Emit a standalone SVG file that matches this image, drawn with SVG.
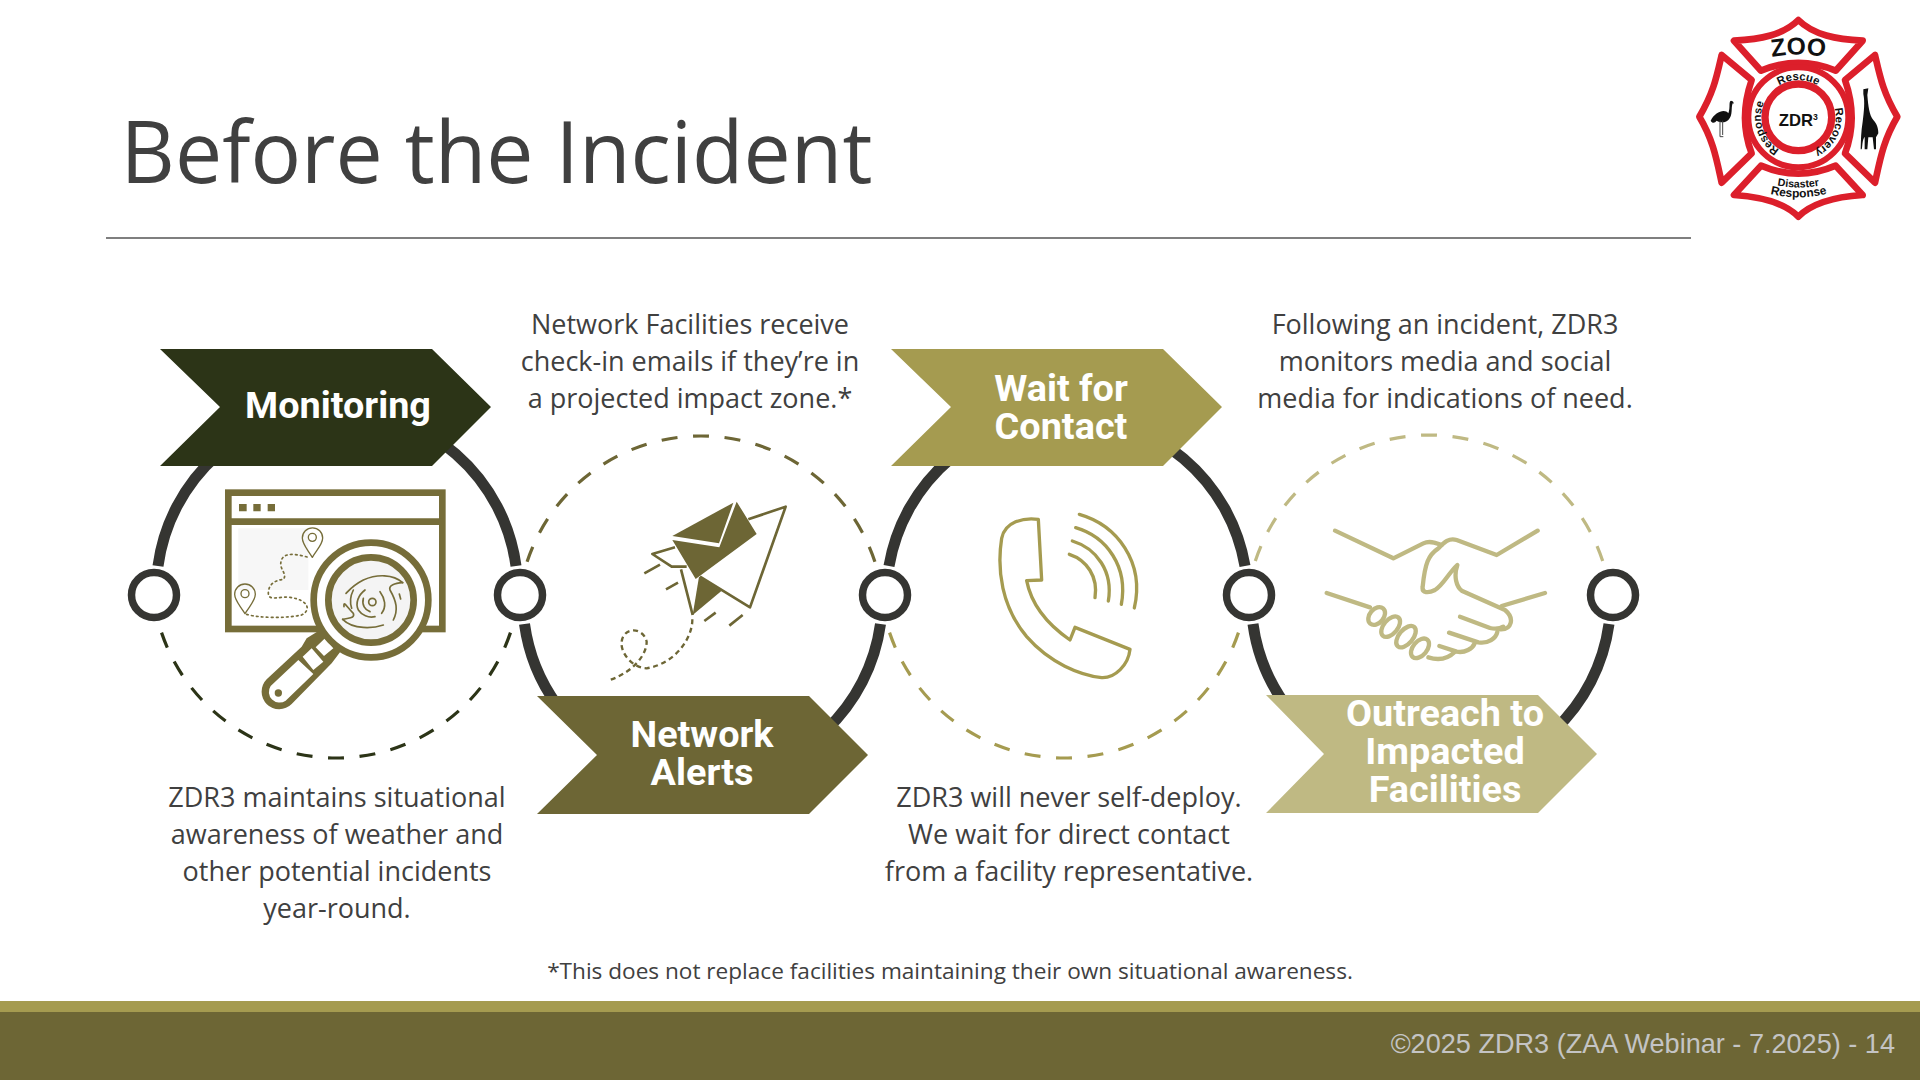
<svg xmlns="http://www.w3.org/2000/svg" width="1920" height="1080" viewBox="0 0 1920 1080">
<style>
.body{font-family:"Open Sans","Liberation Sans",sans-serif;font-size:27px;fill:#404040;text-anchor:middle}
.lab{font-family:Roboto,"Liberation Sans",sans-serif;font-weight:700;font-size:37.8px;fill:#fff;text-anchor:middle}
.solid{fill:none;stroke:#353532;stroke-width:11}
.dash{fill:none;stroke-width:3.2;stroke-dasharray:16 15.6;stroke-dashoffset:8}
.node{fill:#fff;stroke:#353532;stroke-width:7.5}
.i{fill:none;stroke-linecap:round;stroke-linejoin:round}
.lg{font-family:"Liberation Sans",Arial,sans-serif;font-weight:700;fill:#111}
</style>
<rect width="1920" height="1080" fill="#fff"/>
<text x="120.5" y="183" font-family="'Open Sans','Liberation Sans',sans-serif" font-size="86.5" fill="#404040" textLength="752" lengthAdjust="spacingAndGlyphs">Before the Incident</text>
<rect x="106" y="237" width="1585" height="2" fill="#7f7f7f"/>

<g id="connectors">
<path class="solid" d="M158,566A180.6,180.6 0 0 1 516,566"/>
<path class="solid" d="M524.5,624A179.5,179.5 0 0 0 557,705M826,730A179.5,179.5 0 0 0 880.5,624"/>
<path class="solid" d="M889,566A180.6,180.6 0 0 1 1245,566"/>
<path class="solid" d="M1253,624A179.5,179.5 0 0 0 1285.5,705M1554.5,730A179.5,179.5 0 0 0 1609,624"/>
<path class="dash" stroke="#2c3417" d="M336,758A184.5,184.5 0 0 1 161,631M336,758A184.5,184.5 0 0 0 511,631"/>
<path class="dash" stroke="#6d6635" d="M701,436A183,183 0 0 0 527,562M701,436A183,183 0 0 1 875,562"/>
<path class="dash" stroke="#a59b50" d="M1064,758A184.5,184.5 0 0 1 889,631M1064,758A184.5,184.5 0 0 0 1239,631"/>
<path class="dash" stroke="#bfb983" d="M1429,435A183,183 0 0 0 1255,562M1429,435A183,183 0 0 1 1603,562"/>
<circle class="node" cx="154" cy="595" r="22.5"/>
<circle class="node" cx="520" cy="595" r="22.5"/>
<circle class="node" cx="885" cy="595" r="22.5"/>
<circle class="node" cx="1249" cy="595" r="22.5"/>
<circle class="node" cx="1613" cy="595" r="22.5"/>
</g>

<g id="node-monitoring">
<polygon points="160,349 432,349 491,407 432,466 160,466 220,407" fill="#2c3417"/>
<text class="lab" x="338" y="418">Monitoring</text>
<g transform="translate(120 450) scale(.33333)">
<rect x="355" y="235" width="210" height="185" fill="#f7f7f7"/>
<rect x="325" y="128" width="642" height="409" fill="none" stroke="#766d39" stroke-width="20"/>
<path d="M325,215H967" stroke="#766d39" stroke-width="20"/>
<path d="M357,162h23v22h-23zM400,162h22v22h-22zM443,162h22v22h-22z" fill="#766d39"/>
<g class="i" stroke="#766d39" stroke-width="4">
<path d="M577,322C560,295 547,282 547,264A30,30 0 0 1 608,264C608,282 594,295 577,322Z"/><circle cx="577" cy="262" r="12"/>
<path d="M375,491C358,464 344,451 344,433A30,30 0 0 1 406,433C406,451 392,464 375,491Z"/><circle cx="375" cy="431" r="12"/>
<path stroke-width="5" stroke-dasharray="5 10" d="M380,493C420,505 500,505 545,495C575,480 565,450 510,442C480,438 445,455 445,430C445,400 470,390 490,388C505,370 470,355 487,325C500,305 540,315 565,322"/>
</g>
<path d="M560,565L600,540L665,600L635,640L515,762A52,52 0 0 1 440,688L545,590Z" fill="#766d39"/>
<path d="M587,592L615,565L640,595L612,618ZM548,620L575,595L610,635L580,660Z" fill="#fff"/>
<path d="M535,630L580,672L497,752A32,32 0 0 1 452,708Z" fill="#fff"/>
<circle cx="475" cy="729" r="11" fill="#766d39"/>
<circle cx="753" cy="450" r="172" fill="#fff" stroke="#766d39" stroke-width="20"/>
<circle cx="753" cy="450" r="128" fill="#f4f4f4" stroke="#766d39" stroke-width="20"/>
<g class="i" stroke="#766d39" stroke-width="5">
<circle cx="757" cy="456" r="11"/>
<path d="M848,398C820,372 770,372 730,390C700,405 683,425 678,430"/>
<path d="M848,398C825,400 805,405 810,420C830,455 835,480 820,510"/>
<path d="M668,508C690,503 705,505 700,490C680,470 670,450 672,470"/>
<path d="M668,508C700,540 760,535 790,525"/>
<path d="M735,420C715,435 705,460 715,480C725,495 745,505 765,500"/>
<path d="M780,425C795,445 800,470 785,490"/>
<path d="M730,445C725,465 735,480 750,485"/>
<path d="M700,420C690,440 690,460 695,475"/>
<path d="M838,432L842,447"/>
</g>
</g>
<text class="body" x="337" y="807">ZDR3 maintains situational</text>
<text class="body" x="337" y="844">awareness of weather and</text>
<text class="body" x="337" y="881">other potential incidents</text>
<text class="body" x="337" y="918">year-round.</text>
</g>

<g id="node-network-alerts">
<polygon points="537,696 809,696 868,755 809,814 537,814 597,755" fill="#6d6635"/>
<text class="lab" x="702" y="747">Network</text>
<text class="lab" x="702" y="785">Alerts</text>
<g transform="translate(520 430) scale(.33333)">
<path d="M685,268L797,230L690,532L540,440" fill="none" stroke="#6d6635" stroke-width="8" stroke-linejoin="round"/>
<path d="M465,352L397,372L455,410H500M483,418L518,555" fill="none" stroke="#6d6635" stroke-width="8" stroke-linejoin="round"/>
<polygon points="457,330 598,352 650,215 710,312 527,447" fill="#6d6635"/>
<polygon points="457,318 640,218 597,340" fill="#6d6635"/>
<polygon points="537,440 605,482 518,555" fill="#6d6635"/>
<path d="M373,430L420,404M438,478L474,458M553,573L587,548M628,587L668,555" stroke="#6d6635" stroke-width="8" fill="none"/>
<path d="M517,568C518,620 470,700 380,715C340,715 300,670 305,635C310,590 370,590 380,635C380,675 340,725 270,750" fill="none" stroke="#6d6635" stroke-width="7" stroke-dasharray="15 11"/>
</g>
<text class="body" x="690" y="334">Network Facilities receive</text>
<text class="body" x="690" y="371">check-in emails if they’re in</text>
<text class="body" x="690" y="408">a projected impact zone.*</text>
</g>

<g id="node-wait-for-contact">
<polygon points="891,349 1163,349 1222,407 1163,466 891,466 951,407" fill="#a59b50"/>
<text class="lab" x="1061" y="401">Wait for</text>
<text class="lab" x="1061" y="439">Contact</text>
<g transform="translate(880 430) scale(.33333)" class="i" stroke="#a59b50" stroke-width="10">
<path d="M475,268C430,262 375,275 365,325C350,420 365,530 440,620C510,700 600,735 665,743C705,745 745,705 750,658L585,592L570,630C505,585 455,530 440,452L485,450Z"/>
<path d="M568,373C620,390 655,440 645,503"/>
<path d="M577,333C650,355 700,425 685,513"/>
<path d="M587,293C680,320 745,410 724,523"/>
<path d="M598,253C710,285 795,395 763,534"/>
</g>
<text class="body" x="1069" y="807">ZDR3 will never self-deploy.</text>
<text class="body" x="1069" y="844">We wait for direct contact</text>
<text class="body" x="1069" y="881">from a facility representative.</text>
</g>

<g id="node-outreach">
<polygon points="1266,695 1538,695 1597,754 1538,813 1266,813 1324,754" fill="#bfb983"/>
<text class="lab" x="1445" y="726">Outreach to</text>
<text class="lab" x="1445" y="764">Impacted</text>
<text class="lab" x="1445" y="802">Facilities</text>
<g transform="translate(1240 430) scale(.33333)" class="i" stroke="#bfb983" stroke-width="13">
<path d="M285,302L460,385L550,340C570,330 590,340 605,345"/>
<path d="M893,302L770,375L650,330C625,322 610,340 595,355C565,375 555,400 548,470C545,490 565,490 585,480C610,465 625,430 652,405C640,440 650,470 665,482L795,540C825,565 815,600 780,598"/>
<path d="M785,528L915,489"/>
<path d="M260,489L390,532"/>
<path d="M660,560L750,594C775,600 790,590 790,590"/>
<path d="M627,608L715,637C745,642 768,625 772,606"/>
<path d="M598,648L650,665C675,670 698,655 704,640"/>
<path d="M565,682C590,690 620,690 645,665"/>
<ellipse cx="410" cy="558" rx="30" ry="21" transform="rotate(-50 410 558)"/>
<ellipse cx="452" cy="590" rx="36" ry="21" transform="rotate(-50 452 590)"/>
<ellipse cx="498" cy="620" rx="38" ry="21" transform="rotate(-50 498 620)"/>
<ellipse cx="540" cy="655" rx="34" ry="21" transform="rotate(-50 540 655)"/>
</g>
<text class="body" x="1445" y="334">Following an incident, ZDR3</text>
<text class="body" x="1445" y="371">monitors media and social</text>
<text class="body" x="1445" y="408">media for indications of need.</text>
</g>

<text x="950" y="979" font-family="'Open Sans','Liberation Sans',sans-serif" font-size="22.6" fill="#404040" text-anchor="middle">*This does not replace facilities maintaining their own situational awareness.</text>

<rect y="1001" width="1920" height="11" fill="#a59b50"/>
<rect y="1012" width="1920" height="68" fill="#6d6635"/>
<text x="1895" y="1053" font-family="'Liberation Sans',Arial,sans-serif" font-size="27.1" fill="#c4c4c4" text-anchor="end">©2025 ZDR3 (ZAA Webinar - 7.2025) - 14</text>

<g id="logo" transform="translate(1660 0) scale(.33333)">
<defs>
<path id="a1" d="M303,352A112,112 0 1 1 303,352.1"/>
<path id="a3" d="M415,464A112,112 0 1 1 415.1,464"/>
<path id="a4" d="M320,174Q415,154 510,174"/>
<path id="a5" d="M318,578Q415,606 514,578"/>
<path id="a6" d="M335,553Q415,572 495,553"/>
</defs>
<g fill="#fff" stroke="#dc1f2b" stroke-width="20" stroke-linejoin="round">
<path d="M222,122C300,118 370,105 415,60C460,105 530,118 608,122L527,212Q415,165 303,212Z"/>
<path d="M222,585C300,590 370,605 415,650C460,605 530,590 608,585L527,497Q415,545 303,497Z"/>
<path d="M185,165L275,240Q235,355 275,460L185,548C170,480 160,420 118,350C160,280 170,230 185,165Z"/>
<path d="M645,165L555,240Q595,355 555,460L645,548C660,480 670,420 712,350C670,280 660,230 645,165Z"/>
<circle cx="415" cy="352" r="150" stroke-width="18"/>
<circle cx="415" cy="352" r="100" stroke-width="22"/>
</g>
<text class="lg" font-size="74"><textPath href="#a4" startOffset="50%" text-anchor="middle">ZOO</textPath></text>
<text class="lg" font-size="34"><textPath href="#a1" startOffset="25%" text-anchor="middle">Rescue</textPath></text>
<text class="lg" font-size="34"><textPath href="#a1" startOffset="57%" text-anchor="middle">Recovery</textPath></text>
<text class="lg" font-size="34"><textPath href="#a3" startOffset="20%" text-anchor="middle">Response</textPath></text>
<text class="lg" font-size="32"><textPath href="#a6" startOffset="50%" text-anchor="middle">Disaster</textPath></text>
<text class="lg" font-size="36"><textPath href="#a5" startOffset="50%" text-anchor="middle">Response</textPath></text>
<text class="lg" font-size="50" x="415" y="377" text-anchor="middle">ZDR<tspan font-size="26" dy="-16">3</tspan></text>
<path d="M152,362C165,335 195,325 205,340C212,320 205,305 213,302C222,302 223,315 218,310C212,325 220,345 205,360C195,370 180,368 170,362C165,368 158,372 152,362Z" fill="#111"/>
<path d="M180,362V410H190M188,362V405" fill="none" stroke="#444" stroke-width="3"/>
<path d="M610,268L625,265L622,285C625,320 628,345 640,360C655,375 655,395 655,400L648,412V448H642L638,412H625L622,448H614V410C606,420 608,440 605,448H602C603,420 603,395 608,365C612,335 615,305 610,282Z" fill="#111"/>
</g>
</svg>
